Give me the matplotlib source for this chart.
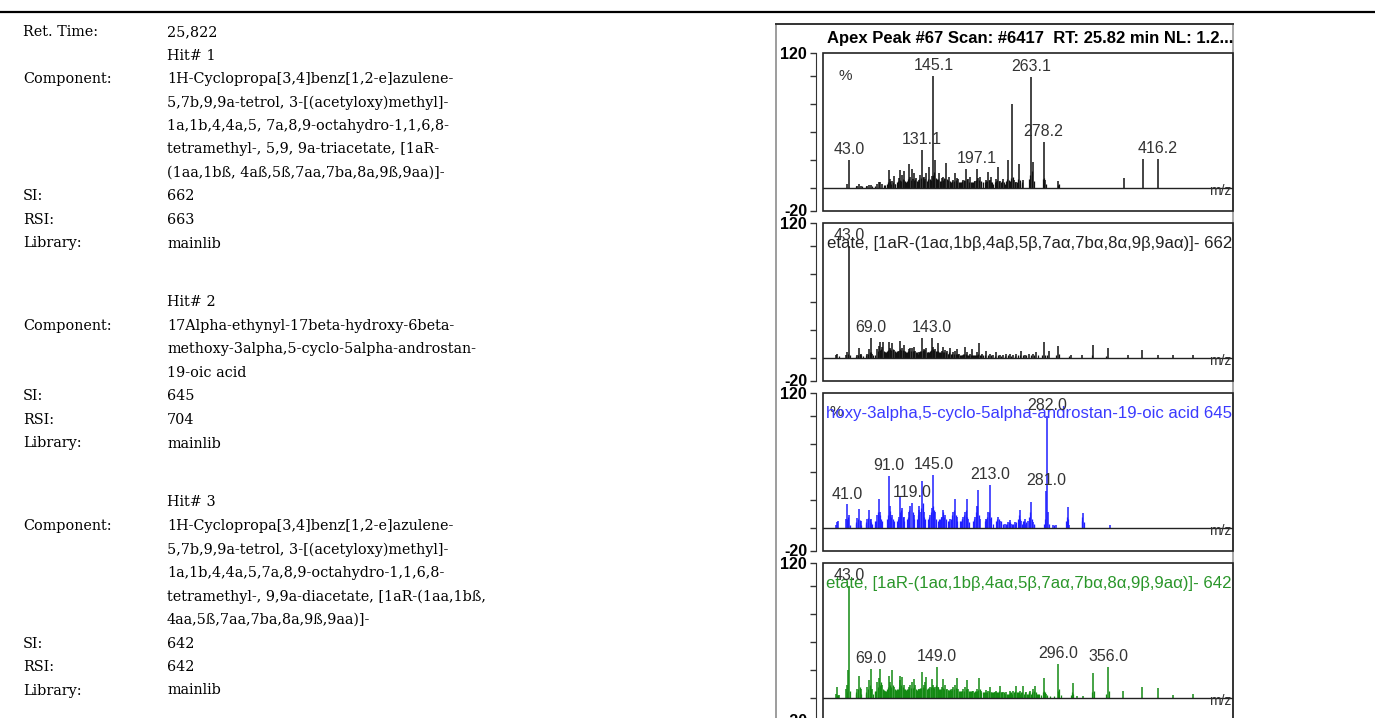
import matplotlib
matplotlib.use("Agg")
import matplotlib.pyplot as plt
from matplotlib.patches import Rectangle

# ---- tabla de resultados (columna izquierda)
ret_time = "25,822"
hit_numbers = [1, 2, 3]
components = [
    ["1H-Cyclopropa[3,4]benz[1,2-e]azulene-",
     "5,7b,9,9a-tetrol, 3-[(acetyloxy)methyl]-",
     "1a,1b,4,4a,5, 7a,8,9-octahydro-1,1,6,8-",
     "tetramethyl-, 5,9, 9a-triacetate, [1aR-",
     "(1aa,1bß, 4aß,5ß,7aa,7ba,8a,9ß,9aa)]-"],
    ["17Alpha-ethynyl-17beta-hydroxy-6beta-",
     "methoxy-3alpha,5-cyclo-5alpha-androstan-",
     "19-oic acid"],
    ["1H-Cyclopropa[3,4]benz[1,2-e]azulene-",
     "5,7b,9,9a-tetrol, 3-[(acetyloxy)methyl]-",
     "1a,1b,4,4a,5,7a,8,9-octahydro-1,1,6,8-",
     "tetramethyl-, 9,9a-diacetate, [1aR-(1aa,1bß,",
     "4aa,5ß,7aa,7ba,8a,9ß,9aa)]-"],
]
si_values = [662, 645, 642]
rsi_values = [663, 704, 642]
libraries = ["mainlib", "mainlib", "mainlib"]

# ---- espectros de masas (m/z, intensidad relativa)
scan_title = "Apex Peak #67 Scan: #6417  RT: 25.82 min NL: 1.2..."

# espectro de la muestra
p1_mz = [41, 43, 53, 55, 57, 65, 67, 69, 77, 79,
         81, 83, 91, 93, 95, 97, 103, 105, 107, 109,
         110, 115, 117, 119, 120, 121, 124, 128, 129, 131,
         133, 135, 136, 140, 143, 145, 147, 152, 155, 157,
         159, 160, 164, 169, 171, 173, 175, 181, 183, 184,
         187, 189, 195, 197, 199, 201, 209, 211, 213, 215,
         221, 223, 225, 229, 235, 240, 242, 245, 248, 253,
         263, 265, 278, 280, 296, 375, 398, 416]
p1_int = [4, 25, 2, 4, 2, 2, 3, 3, 4, 5,
          5, 4, 16, 8, 6, 11, 9, 16, 12, 15,
          7, 21, 10, 17, 8, 13, 9, 7, 12, 34,
          10, 8, 13, 19, 11, 100, 25, 13, 9, 10,
          8, 22, 10, 7, 13, 9, 8, 7, 6, 17,
          8, 10, 6, 17, 9, 10, 7, 14, 7, 10,
          8, 19, 6, 8, 25, 75, 7, 5, 21, 7,
          99, 23, 41, 7, 6, 9, 26, 26]
p1_minor_mz = [51, 59, 63, 71, 75, 85, 87, 89, 90, 92, 94, 96, 98, 99, 101, 102,
               104, 106, 108, 111, 112, 113, 114, 116, 118, 122, 123, 125, 126, 127,
               130, 132, 134, 137, 138, 139, 141, 142, 144, 146, 148, 149, 150, 151,
               153, 154, 156, 158, 161, 162, 163, 165, 166, 167, 168, 170, 172, 174,
               176, 177, 178, 179, 180, 182, 185, 186, 188, 190, 191, 193, 194, 196,
               198, 200, 202, 203, 205, 207, 208, 210, 212, 214, 216, 217, 219, 220,
               222, 224, 226, 227, 228, 230, 231, 233, 234, 236, 237, 238, 239, 241,
               243, 246, 247, 249, 250, 252, 261, 262, 264, 266, 277, 279, 281, 295, 297]
p1_minor_int = [1.5, 1.5, 1.5, 2, 2, 3, 3, 4, 5, 6, 4, 5, 4, 4, 5, 6,
                7, 6, 8, 6, 5, 6, 8, 9, 7, 7, 8, 6, 6, 8,
                9, 10, 7, 6, 7, 8, 8, 7, 12, 14, 9, 8, 7, 8,
                6, 6, 7, 9, 8, 6, 7, 6, 5, 6, 5, 6, 7, 5,
                5, 5, 5, 6, 5, 7, 8, 6, 5, 5, 5, 5, 6, 7,
                8, 7, 5, 6, 5, 5, 6, 6, 7, 5, 5, 4, 5, 6,
                7, 6, 4, 5, 6, 5, 4, 6, 8, 7, 5, 6, 9, 10,
                5, 5, 8, 7, 4, 5, 8, 12, 15, 6, 8, 9, 4, 3, 4]
p1_lab_mz = [43, 131, 145, 197, 263, 278, 416]
p1_lab_txt = ["43.0", "131.1", "145.1", "197.1", "263.1", "278.2", "416.2"]

# hit 1 (662)
p2_mz = [27, 29, 39, 41, 43, 53, 55, 57, 65, 67,
         69, 71, 77, 79, 81, 83, 84, 91, 93, 95,
         97, 103, 105, 107, 109, 110, 115, 117, 119, 121,
         123, 128, 131, 133, 135, 136, 143, 145, 147, 150,
         155, 157, 159, 161, 165, 169, 171, 173, 176, 183,
         185, 189, 192, 197, 200, 204, 209, 213, 217, 221,
         225, 229, 233, 237, 241, 245, 251, 255, 260, 265,
         269, 278, 284, 295, 311, 324, 338, 356, 380, 397,
         416, 434, 458]
p2_int = [3, 4, 3, 5, 100, 3, 9, 4, 4, 8,
          18, 4, 8, 11, 14, 10, 14, 14, 9, 13,
          7, 6, 15, 9, 12, 6, 8, 9, 9, 10,
          6, 5, 18, 8, 7, 9, 18, 10, 8, 13,
          6, 10, 7, 6, 9, 5, 6, 8, 4, 10,
          5, 4, 8, 5, 13, 4, 6, 4, 3, 5,
          3, 3, 4, 4, 3, 4, 6, 3, 4, 4,
          5, 14, 6, 11, 3, 3, 12, 9, 3, 7,
          3, 2.5, 3]
p2_minor_mz = [31, 42, 44, 51, 54, 56, 58, 60, 63, 66, 68, 70, 72, 74, 78, 80,
               82, 85, 86, 87, 88, 89, 90, 92, 94, 96, 98, 99, 100, 101, 102, 104,
               106, 108, 111, 112, 113, 114, 116, 118, 120, 122, 124, 125, 126, 127,
               129, 130, 132, 134, 137, 138, 139, 140, 141, 142, 144, 146, 148, 149,
               151, 152, 153, 154, 156, 158, 160, 162, 163, 164, 166, 167, 168, 170,
               172, 174, 175, 177, 178, 179, 180, 181, 182, 184, 186, 187, 188, 190,
               191, 193, 194, 195, 196, 198, 199, 201, 202, 205, 207, 211, 215, 219,
               223, 227, 231, 235, 239, 243, 247, 249, 253, 257, 263, 267, 271, 276,
               280, 282, 293, 297, 309, 336, 354]
p2_minor_int = [2, 4, 3, 2, 3, 4, 3, 2, 3, 4, 5, 5, 3, 3, 6, 7,
                8, 6, 5, 5, 5, 6, 7, 8, 7, 8, 6, 5, 5, 6, 6, 8,
                7, 7, 6, 5, 5, 6, 6, 6, 6, 6, 5, 5, 4, 5,
                6, 6, 7, 6, 5, 5, 5, 5, 6, 7, 8, 7, 6, 6,
                6, 5, 5, 5, 5, 5, 5, 4, 4, 5, 4, 4, 4, 4,
                4, 4, 4, 3, 3, 3, 3, 4, 4, 4, 3, 3, 3, 3,
                3, 3, 3, 3, 3, 3, 4, 3, 3, 3, 3, 3, 3, 2,
                3, 2, 2, 3, 2, 2, 3, 3, 3, 3, 3, 3, 3, 3,
                3, 3, 3, 4, 2, 3, 2]
p2_lab_mz = [43, 69, 143]
p2_lab_txt = ["43.0", "69.0", "143.0"]

# hit 2 (645)
p3_mz = [27, 29, 30, 39, 41, 43, 53, 55, 57, 65,
         67, 69, 77, 79, 81, 91, 93, 95, 103, 105,
         107, 109, 115, 117, 119, 121, 127, 128, 129, 131,
         133, 141, 143, 145, 147, 155, 157, 159, 165, 169,
         171, 173, 181, 183, 185, 187, 195, 197, 199, 201,
         209, 211, 213, 215, 223, 225, 231, 235, 237, 239,
         243, 249, 251, 255, 259, 263, 265, 281, 282, 283,
         289, 293, 307, 309, 326, 358]
p3_int = [3, 5, 6, 8, 21, 12, 9, 17, 6, 8,
          16, 8, 12, 26, 14, 46, 20, 12, 10, 28,
          18, 10, 14, 20, 22, 12, 20, 16, 14, 42,
          14, 12, 18, 47, 14, 10, 16, 12, 8, 14,
          26, 10, 10, 14, 26, 8, 10, 20, 34, 8,
          8, 14, 38, 8, 10, 6, 4, 5, 7, 4,
          5, 16, 6, 8, 6, 23, 5, 33, 100, 14,
          3, 3, 19, 3, 13, 3]
p3_minor_mz = [40, 42, 44, 51, 52, 54, 56, 58, 63, 64, 66, 68, 70, 71, 74, 75,
               76, 78, 80, 82, 83, 89, 90, 92, 94, 96, 97, 101, 102, 104, 106, 108,
               110, 113, 114, 116, 120, 122, 125, 126, 130, 132, 134, 135, 139, 140,
               142, 144, 146, 148, 151, 152, 153, 154, 156, 158, 160, 163, 164, 166,
               167, 168, 170, 172, 174, 177, 178, 179, 180, 182, 184, 186, 188, 193,
               194, 196, 198, 200, 207, 208, 210, 212, 214, 217, 221, 222, 224, 226,
               227, 229, 233, 234, 236, 238, 240, 241, 244, 245, 247, 248, 250, 252,
               253, 254, 256, 257, 261, 262, 264, 266, 267, 279, 280, 284, 291, 305,
               306, 308, 324, 325, 327]
p3_minor_int = [8, 10, 3, 4, 5, 8, 7, 3, 5, 4, 9, 8, 5, 4, 4, 6,
                6, 14, 12, 8, 6, 8, 12, 15, 10, 8, 6, 6, 8, 14, 16, 10,
                6, 8, 10, 16, 14, 8, 8, 12, 18, 22, 10, 8, 8, 10,
                14, 20, 16, 8, 6, 8, 8, 10, 14, 10, 8, 6, 6, 8,
                8, 12, 16, 12, 6, 6, 6, 8, 8, 12, 16, 10, 5, 6,
                8, 14, 20, 12, 6, 8, 10, 14, 10, 4, 6, 8, 8, 6,
                4, 4, 4, 4, 5, 5, 4, 4, 4, 5, 8, 12, 8, 4,
                6, 6, 4, 5, 10, 14, 8, 4, 3, 4, 8, 4, 3, 6,
                10, 8, 6, 10, 5]
p3_lab_mz = [41, 91, 119, 145, 213, 281, 282]
p3_lab_txt = ["41.0", "91.0", "119.0", "145.0", "213.0", "281.0", "282.0"]

# hit 3 (642)
p4_mz = [27, 29, 31, 39, 41, 42, 43, 53, 55, 57,
         65, 67, 69, 71, 77, 79, 81, 83, 91, 93,
         95, 97, 104, 105, 107, 109, 115, 117, 119, 121,
         123, 128, 131, 133, 135, 136, 141, 143, 145, 147,
         149, 151, 155, 157, 159, 161, 167, 169, 171, 173,
         175, 181, 183, 185, 187, 193, 197, 200, 202, 209,
         211, 213, 219, 221, 225, 229, 233, 237, 241, 245,
         249, 253, 257, 262, 265, 268, 278, 281, 296, 313,
         318, 326, 338, 356, 374, 397, 416, 434, 458]
p4_int = [4, 10, 3, 8, 12, 25, 100, 8, 20, 8,
          10, 16, 26, 8, 14, 18, 26, 12, 20, 14,
          25, 10, 20, 16, 19, 12, 10, 12, 14, 17,
          12, 8, 23, 12, 14, 19, 10, 17, 12, 10,
          28, 10, 10, 17, 12, 8, 8, 10, 12, 18,
          8, 8, 10, 16, 8, 6, 8, 18, 6, 7,
          6, 10, 5, 6, 10.5, 5, 5, 6, 6, 11,
          6, 11, 5, 6, 8, 10.5, 18, 4, 30, 13,
          2, 2, 22, 28, 6.6, 10, 9, 3, 3.6]
p4_minor_mz = [28, 30, 40, 44, 51, 52, 54, 56, 58, 63, 64, 66, 68, 70, 72, 74,
               75, 76, 78, 80, 82, 84, 85, 86, 87, 88, 89, 90, 92, 94, 96, 98,
               99, 100, 101, 102, 103, 106, 108, 110, 111, 112, 113, 114, 116, 118,
               120, 122, 124, 125, 126, 127, 129, 130, 132, 134, 137, 138, 139, 140,
               142, 144, 146, 148, 150, 152, 153, 154, 156, 158, 160, 162, 163, 164,
               165, 166, 168, 170, 172, 174, 176, 177, 178, 179, 180, 182, 184, 186,
               188, 189, 190, 191, 192, 194, 195, 196, 198, 199, 201, 203, 205, 206,
               207, 208, 210, 212, 214, 215, 216, 217, 218, 220, 222, 223, 224, 226,
               227, 228, 230, 231, 232, 234, 235, 236, 238, 239, 240, 242, 243, 244,
               246, 247, 248, 250, 251, 252, 254, 255, 256, 258, 259, 260, 261, 263,
               264, 266, 267, 269, 270, 271, 272, 275, 277, 279, 280, 282, 286, 291,
               295, 297, 299, 311, 312, 314, 336, 339, 354, 357]
p4_minor_int = [3, 3, 5, 6, 4, 5, 8, 10, 4, 5, 4, 8, 12, 8, 4, 5,
                6, 6, 10, 12, 14, 8, 7, 6, 6, 6, 8, 10, 12, 10, 12, 8,
                7, 7, 8, 8, 10, 12, 10, 8, 8, 7, 8, 8, 9, 9,
                9, 10, 8, 7, 8, 8, 9, 9, 10, 9, 8, 8, 9, 9,
                10, 10, 9, 12, 10, 8, 8, 8, 9, 8, 8, 7, 7, 7,
                8, 7, 7, 8, 9, 7, 6, 6, 6, 6, 6, 6, 8, 7,
                6, 6, 6, 6, 6, 5, 6, 6, 6, 7, 8, 5, 5, 5,
                5, 5, 5, 6, 5, 5, 5, 5, 5, 5, 5, 5, 6, 5,
                5, 5, 5, 4, 4, 4, 4, 4, 5, 5, 4, 5, 6, 5,
                5, 5, 5, 4, 5, 5, 4, 5, 4, 4, 4, 5, 5, 4,
                5, 5, 6, 5, 4, 4, 4, 3, 5, 6, 5, 3, 2, 2,
                6, 8, 3, 3, 5, 4, 5, 6, 4, 6]
p4_lab_mz = [43, 69, 149, 296, 356]
p4_lab_txt = ["43.0", "69.0", "149.0", "296.0", "356.0"]

# nombre del compuesto tal como se ve en el recuadro
hit_titles = [
    None,
    "etate, [1aR-(1aα,1bβ,4aβ,5β,7aα,7bα,8α,9β,9aα)]- 662",
    "hoxy-3alpha,5-cyclo-5alpha-androstan-19-oic acid 645",
    "etate, [1aR-(1aα,1bβ,4aα,5β,7aα,7bα,8α,9β,9aα)]- 642",
]

W, H = 1375, 718
plt.rcParams['font.family'] = ['Liberation Sans', 'DejaVu Sans']
fig = plt.figure(figsize=(W / 100, H / 100), dpi=100)

# capa de fondo en pixeles
bg = fig.add_axes([0, 0, 1, 1])
bg.set_xlim(0, W)
bg.set_ylim(H, 0)
bg.axis('off')

bg.plot([0, W], [12, 12], color='black', lw=1.6)

# texto de la tabla
rows = [("Ret. Time:", ret_time)]
for i in range(len(hit_numbers)):
    if i > 0:
        rows.append(None)
    rows.append(("", f"Hit# {hit_numbers[i]}"))
    for j, linea in enumerate(components[i]):
        rows.append(("Component:" if j == 0 else "", linea))
    rows.append(("SI:", str(si_values[i])))
    rows.append(("RSI:", str(rsi_values[i])))
    rows.append(("Library:", libraries[i]))

y = 32
for r in rows:
    if r is None:
        y += 35.5
        continue
    lab, val = r
    if lab:
        bg.text(23, y, lab, family='DejaVu Serif', fontsize=10.4, va='center', ha='left')
    bg.text(167, y, val, family='DejaVu Serif', fontsize=10.4, va='center', ha='left')
    y += 23.5

# marco exterior de los espectros
bg.plot([776, 776], [24, H + 5], color='#8c8c8c', lw=1.2)
bg.plot([1233, 1233], [24, H + 5], color='#9a9a9a', lw=1.2)
bg.plot([776, 1233], [24, 24], color='#333333', lw=1.4)
bg.text(827, 39, scan_title, fontsize=12, fontweight='bold', ha='left', va='center')

panels = [
    (p1_mz, p1_int, p1_minor_mz, p1_minor_int, p1_lab_mz, p1_lab_txt, '#111111', '#111111'),
    (p2_mz, p2_int, p2_minor_mz, p2_minor_int, p2_lab_mz, p2_lab_txt, '#111111', '#222222'),
    (p3_mz, p3_int, p3_minor_mz, p3_minor_int, p3_lab_mz, p3_lab_txt, '#1f1fff', '#3a3aff'),
    (p4_mz, p4_int, p4_minor_mz, p4_minor_int, p4_lab_mz, p4_lab_txt, '#138a13', '#2a962a'),
]
tops = [53, 223, 393, 563]
alto = 157.5

for i, (mz, inten, mmz, mint, lmz, ltxt, col, tcol) in enumerate(panels):
    top = tops[i]
    ax = fig.add_axes([823 / W, 1 - (top + alto) / H, 410 / W, alto / H])
    ax.set_xlim(11.6, 506.8)
    ax.set_ylim(-20, 120)
    ax.patch.set_alpha(0)
    for s in ['top', 'right', 'bottom']:
        ax.spines[s].set_visible(False)
    ax.spines['left'].set_position(('outward', 5))
    ax.spines['left'].set_bounds(-20, 120)
    ax.spines['left'].set_color('#333333')
    ax.set_xticks([])
    ax.set_yticks([-20, 0, 25, 50, 75, 100, 120])
    ax.set_yticklabels(['-20', '', '', '', '', '', '120'])
    ax.tick_params(axis='y', length=4.5, width=1, color='#333333', pad=2,
                   labelsize=11.5)
    for t in ax.get_yticklabels():
        t.set_fontweight('bold')
    ax.add_patch(Rectangle((0, 0), 1, 1, transform=ax.transAxes, fill=False,
                           ec='#222222', lw=1.2, clip_on=False))

    ax.vlines(mmz, 0, mint, colors=col, lw=0.9)
    ax.vlines(mz, 0, inten, colors=col, lw=1.1)
    ax.axhline(0, color='#222222', lw=1.0)
    ax.text(505, -3, "m/z", fontsize=10, color='#333333', ha='right', va='center')

    if i == 0:
        ax.text(38, 100, "%", fontsize=11, color='#333333', ha='center', va='center')
    if i == 2:
        ax.text(28, 103, "%", fontsize=11, color='#333333', ha='center', va='center')
    if hit_titles[i]:
        ax.text(505.5, 102, hit_titles[i], fontsize=12.1, color=tcol,
                ha='right', va='center')

    for m, t in zip(lmz, ltxt):
        h = inten[mz.index(m)]
        ax.annotate(t, (m, h), xytext=(0, 2), textcoords='offset points',
                    ha='center', va='bottom', fontsize=11.5, color='#333333')

fig.savefig("out.png", dpi=100)
